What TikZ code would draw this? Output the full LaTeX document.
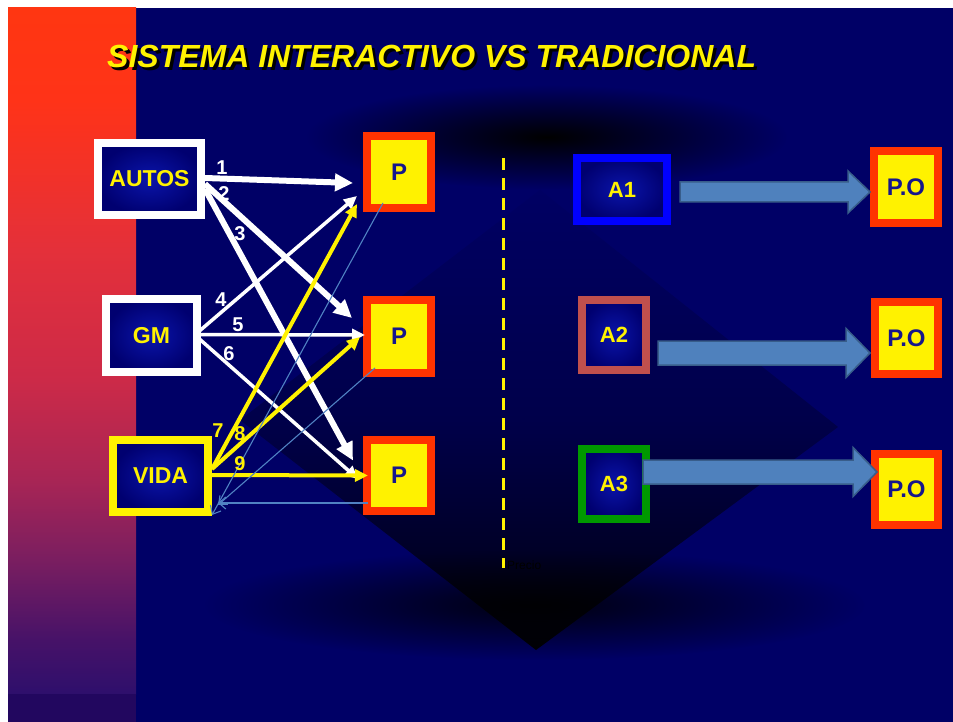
\documentclass[tikz,border=0pt]{standalone}
\usepackage{fontspec}
\setmainfont{Liberation Sans}
\usetikzlibrary{arrows.meta,calc,fadings}

\definecolor{bgnavy}{RGB}{0,0,102}
\definecolor{boxnavy}{RGB}{0,0,112}
\definecolor{boxglow}{RGB}{10,20,170}
\definecolor{pred}{RGB}{255,51,0}
\definecolor{ptext}{RGB}{22,22,140}
\definecolor{aone}{RGB}{0,0,255}
\definecolor{atwo}{RGB}{192,80,77}
\definecolor{athree}{RGB}{0,153,0}
\definecolor{blkfill}{RGB}{79,129,189}
\definecolor{blkdraw}{RGB}{56,93,138}
\definecolor{thinblue}{RGB}{80,130,195}
\definecolor{stripbot}{RGB}{34,7,95}
\definecolor{sA}{RGB}{46,15,108}
\definecolor{sB}{RGB}{70,18,104}
\definecolor{sC}{RGB}{122,30,96}
\definecolor{sD}{RGB}{168,37,85}
\definecolor{sE}{RGB}{204,42,72}
\definecolor{sF}{RGB}{228,48,58}
\definecolor{sG}{RGB}{255,51,24}
\definecolor{sH}{RGB}{255,54,17}
\definecolor{dA}{RGB}{0,0,5}
\definecolor{dB}{RGB}{0,0,37}
\definecolor{dC}{RGB}{0,0,74}
\definecolor{dD}{RGB}{0,0,99}

\pgfdeclareverticalshading{redstrip}{100bp}{color(0bp)=(sA); color(25bp)=(sA); color(28.9bp)=(sB); color(34.8bp)=(sC); color(40.6bp)=(sD); color(47.9bp)=(sE); color(57.4bp)=(sF); color(68.3bp)=(sG); color(75bp)=(sH); color(100bp)=(sH)}
\pgfdeclareverticalshading{diamshade}{100bp}{color(0bp)=(dA); color(25bp)=(dA); color(34.8bp)=(dB); color(50bp)=(dC); color(75bp)=(dD); color(100bp)=(dD)}
\tikzfading[name=glowfade, inner color=transparent!0, outer color=transparent!100]

\newcommand\blockarrow[5]{\draw[blk] ($(#1)+(0,-#3)$) -- ($(#2)+(-#5,-#3)$) -- ($(#2)+(-#5,-#4)$) -- (#2) -- ($(#2)+(-#5,#4)$) -- ($(#2)+(-#5,#3)$) -- ($(#1)+(0,#3)$) -- cycle;}

\begin{document}
\begin{tikzpicture}[x=1pt,y=-1pt,
  framebox/.style={line width=8pt, inner sep=0pt, outer sep=0pt, shade, inner color=boxglow, outer color=boxnavy, text=yellow, font=\fontsize{23}{26}\selectfont\bfseries},
  pbox/.style={line width=8pt, inner sep=0pt, outer sep=0pt, draw=pred, fill=yellow, text=ptext, font=\fontsize{24}{27}\selectfont\bfseries, minimum width=64pt},
  lbl/.style={inner sep=0pt, font=\fontsize{20}{22}\selectfont\bfseries},
  thickw/.style={draw=white, line width=6pt, -{Triangle[length=18pt,width=17pt]}},
  thinw/.style={draw=white, line width=3.5pt, -{Triangle[length=13pt,width=12pt]}},
  yarr/.style={draw=yellow, line width=4pt, -{Triangle[length=13pt,width=12pt]}},
  barb/.style={draw=thinblue, line width=1.1pt, -{Straight Barb[length=7pt,width=12pt]}},
  blk/.style={fill=blkfill, draw=blkdraw, line width=1.5pt, line join=miter},
  titletext/.style={anchor=base west, inner sep=0pt, font=\fontsize{32}{35}\selectfont\bfseries\itshape}
]
\useasboundingbox (0,0) rectangle (953,722);
\fill[white] (0,0) rectangle (953,722);
\fill[bgnavy] (8,8) rectangle (953,722);
% dark background shapes
\fill[black, path fading=glowfade] (547,137) ellipse [x radius=240, y radius=52];
\shade[shading=diamshade] (240,420) -- (540,190) -- (838,427) -- (536,650) -- cycle;
\fill[black, opacity=0.85, path fading=glowfade] (535,605) ellipse [x radius=330, y radius=55];
% left strip
\shade[shading=redstrip] (8,8) rectangle (136,694);
\fill[stripbot] (8,694) rectangle (136,722);

% title with shadow
\node[titletext, text=black] (titleshadow) at (110,71) {SISTEMA INTERACTIVO VS TRADICIONAL};
\node[titletext, text=yellow] (title) at (107,68) {SISTEMA INTERACTIVO VS TRADICIONAL};

% dashed divider
\coordinate (dtop) at (503,158);
\coordinate (dbot) at (503,568);
\draw[yellow, line width=3pt, dash pattern=on 12pt off 8pt] (dtop) -- (dbot);
\node[anchor=west, inner sep=0pt, text=black, font=\fontsize{12}{14}\selectfont] (precio) at (507,565) {Precio};

% left boxes
\node[framebox, draw=white, minimum width=103pt, minimum height=72pt] (AUTOS) at (149.5,179) {AUTOS};
\node[framebox, draw=white, minimum width=91pt, minimum height=73pt] (GM) at (151.5,335.5) {GM};
\node[framebox, draw=yellow, minimum width=95pt, minimum height=72pt] (VIDA) at (160.5,476) {VIDA};
\node[pbox, minimum height=72pt] (P1) at (399,172) {P};
\node[pbox, minimum height=73pt] (P2) at (399,336.5) {P};
\node[pbox, minimum height=71pt] (P3) at (399,475.5) {P};

% right boxes
\node[framebox, draw=aone, minimum width=90pt, minimum height=63pt, font=\fontsize{22}{25}\selectfont\bfseries] (A1) at (622,189.5) {A1};
\node[framebox, draw=atwo, minimum width=64pt, minimum height=70pt, font=\fontsize{22}{25}\selectfont\bfseries] (A2) at (614,335) {A2};
\node[framebox, draw=athree, minimum width=64pt, minimum height=70pt, font=\fontsize{22}{25}\selectfont\bfseries] (A3) at (614,484) {A3};
\node[pbox, minimum height=72pt] (PO1) at (906,187) {P.O};
\node[pbox, minimum width=63pt, minimum height=72pt] (PO2) at (906.5,338) {P.O};
\node[pbox, minimum width=63pt, minimum height=71pt] (PO3) at (906.5,489.5) {P.O};

% white arrows
\draw[thickw] ($(AUTOS.east)+(4,-1)$) -- ($(P1.west)+(-14,11)$);
\draw[thickw] ($(AUTOS.east)+(4,5)$) -- ($(P2.west)+(-15,-18.5)$);
\draw[thickw] ($(AUTOS.east)+(4,10)$) -- ($(P3.west)+(-14,-15)$);
\draw[thinw] ($(GM.east)+(3,-5)$) -- ($(P1.west)+(-10,24)$);
\draw[thinw] ($(GM.east)+(3,-1)$) -- ($(P2.west)+(-2,-1.5)$);
\draw[thinw] ($(GM.east)+(3,4)$) -- ($(P3.west)+(-9,3.5)$);
% yellow arrows
\draw[yarr] ($(VIDA.east)+(4,-7)$) -- ($(P1.west)+(-10,32)$);
\draw[yarr] ($(VIDA.east)+(4,-7)$) -- ($(P2.west)+(-7,0.5)$);
\draw[yarr] ($(VIDA.east)+(4,-1)$) -- ($(P3.west)+(1,0)$);
% thin return arrows
\draw[barb] ($(P1.south)+(-16,-5)$) -- ($(VIDA.south east)+(4,3)$);
\draw[barb] ($(P2.south west)+(8,-5)$) -- ($(VIDA.east)+(10,29)$);
\draw[barb] ($(P3.west)+(1,27.5)$) -- ($(VIDA.east)+(10,27)$);

% labels
\node[lbl, text=white] (l1) at (222,168) {1};
\node[lbl, text=white] (l2) at (224,194) {2};
\node[lbl, text=white] (l3) at (240,234) {3};
\node[lbl, text=white] (l4) at (221,300) {4};
\node[lbl, text=white] (l5) at (238,325) {5};
\node[lbl, text=white] (l6) at (229,354) {6};
\node[lbl, text=yellow] (l7) at (218,431) {7};
\node[lbl, text=yellow] (l8) at (240,434) {8};
\node[lbl, text=yellow] (l9) at (240,464) {9};

% block arrows
\coordinate (r1s) at ($(A1.east)+(13,2.5)$);
\coordinate (r1e) at ($(PO1.west)+(-4,5)$);
\coordinate (r2s) at ($(A2.east)+(12,18)$);
\coordinate (r2e) at ($(PO2.west)+(-5,15)$);
\coordinate (r3s) at ($(A3.east)+(-3,-12)$);
\coordinate (r3e) at ($(PO3.west)+(2,-17.5)$);
\blockarrow{r1s}{r1e}{10}{21}{22}
\blockarrow{r2s}{r2e}{12}{24.5}{24}
\blockarrow{r3s}{r3e}{12}{24.5}{24}
\end{tikzpicture}
\end{document}
